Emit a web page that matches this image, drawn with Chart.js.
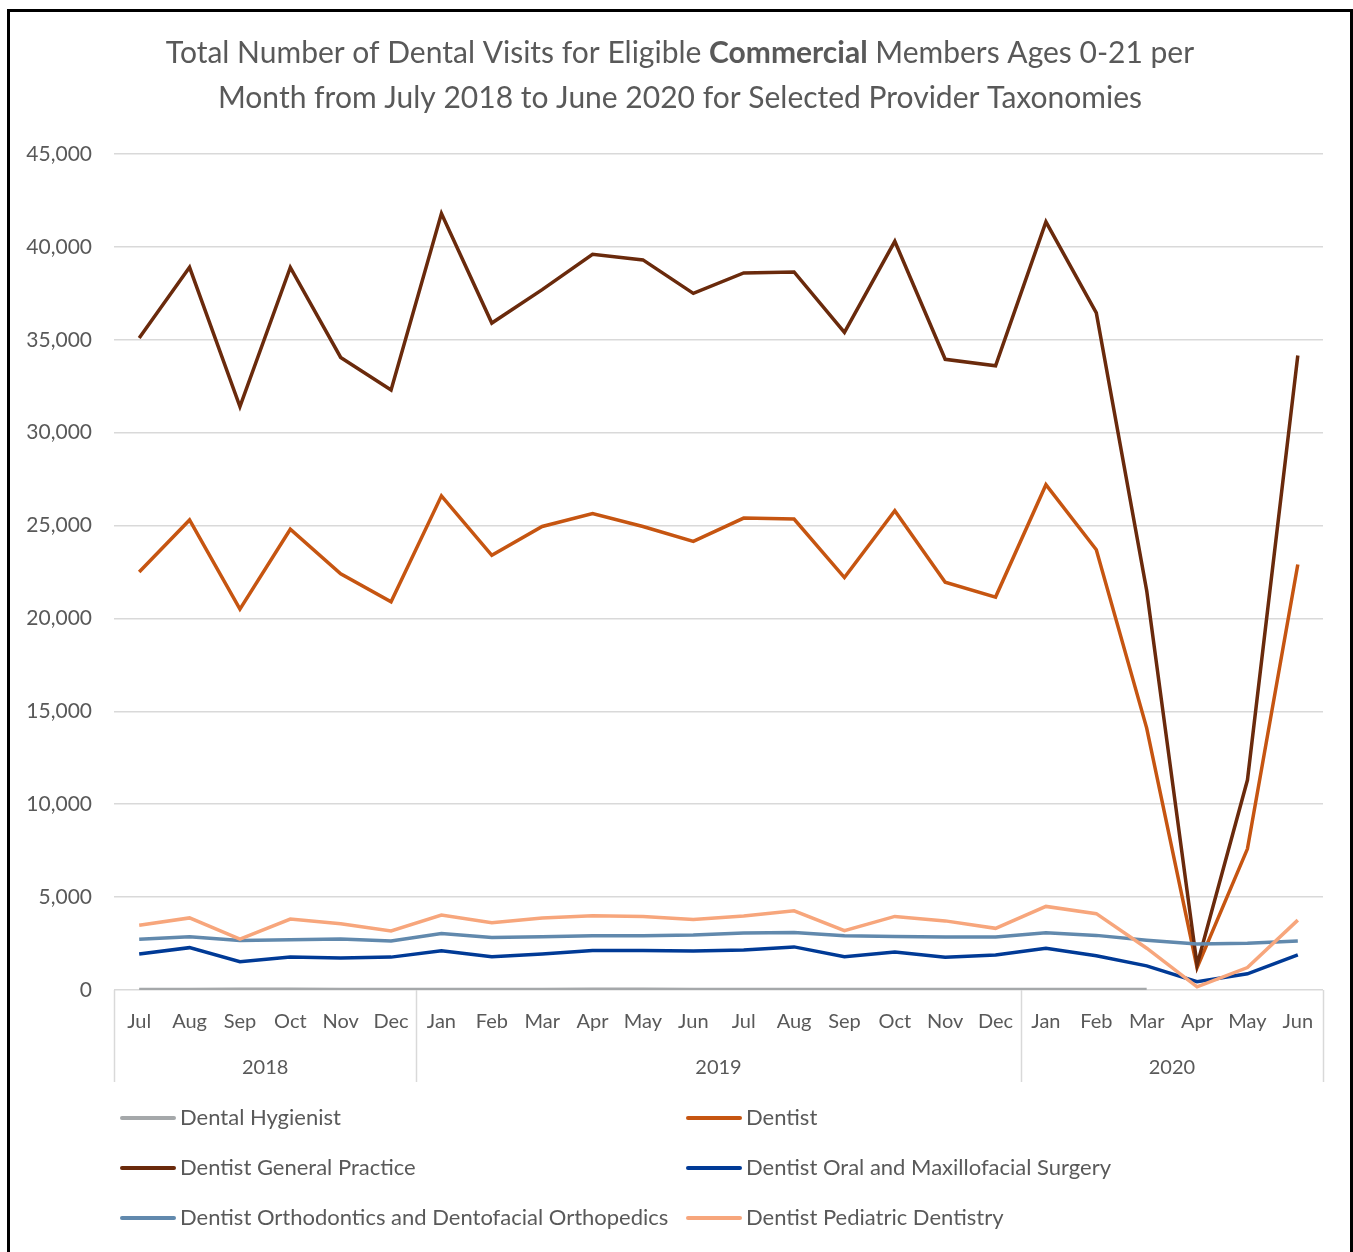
<!DOCTYPE html>
<html>
<head>
<meta charset="utf-8">
<script src="https://cdn.jsdelivr.net/npm/chart.js@4.4.1/dist/chart.umd.min.js"></script>
<style>
  html, body { margin: 0; padding: 0; background: #fff; overflow: hidden; }
  #frame { position: absolute; left: 7px; top: 9px; width: 1346px; height: 1300px; border: 3px solid #000; box-sizing: border-box; }
  #wrap { position: absolute; left: 0; top: 0; width: 1353px; height: 1252px; }
</style>
</head>
<body>
<div id="frame"></div>
<div id="wrap"><canvas id="chart" width="1353" height="1252"></canvas></div>
<script>
// Data
const months = ['Jul','Aug','Sep','Oct','Nov','Dec','Jan','Feb','Mar','Apr','May','Jun',
                'Jul','Aug','Sep','Oct','Nov','Dec','Jan','Feb','Mar','Apr','May','Jun'];
const yearGroups = ['2018', '2019', '2020'];
const yearSpans  = [6, 12, 6];   // number of months in each year group

const titleLine1 = [['Total Number of Dental Visits for Eligible ', false], ['Commercial', true], [' Members Ages 0-21 per', false]];
const titleLine2 = [['Month from July 2018 to June 2020 for Selected Provider Taxonomies', false]];

const dentalHygienist = [30, 32, 35, 36, 30, 28, 27, 28, 32, 34, 35, 30,
                         27, 25, 28, 26, 23, 22, 24, 25, 22, null, null, null];
const dentist = [22500, 25300, 20500, 24800, 22400, 20900, 26600, 23400, 24950, 25650, 24950, 24150,
                 25400, 25350, 22200, 25800, 21950, 21150, 27200, 23700, 14100, 1200, 7600, 22900];
const generalPractice = [35100, 38900, 31400, 38900, 34050, 32300, 41800, 35900, 37700, 39600, 39300, 37500,
                         38600, 38650, 35400, 40300, 33950, 33600, 41350, 36450, 21500, 1350, 11300, 34150];
const oralSurgery = [1940, 2280, 1520, 1780, 1720, 1770, 2110, 1790, 1940, 2120, 2130, 2100,
                     2150, 2320, 1790, 2040, 1760, 1880, 2250, 1840, 1300, 450, 870, 1890];
const orthodontics = [2730, 2860, 2660, 2710, 2740, 2640, 3040, 2820, 2870, 2920, 2920, 2960,
                      3070, 3090, 2920, 2880, 2850, 2850, 3080, 2940, 2680, 2470, 2510, 2640];
const pediatric = [3480, 3880, 2740, 3820, 3570, 3180, 4030, 3620, 3880, 3990, 3950, 3790,
                   3980, 4260, 3190, 3960, 3720, 3320, 4500, 4110, 2250, 170, 1210, 3760];

const seriesNames  = ['Dental Hygienist', 'Dentist', 'Dentist General Practice',
                      'Dentist Oral and Maxillofacial Surgery',
                      'Dentist Orthodontics and Dentofacial Orthopedics', 'Dentist Pediatric Dentistry'];
const seriesValues = [dentalHygienist, dentist, generalPractice, oralSurgery, orthodontics, pediatric];
const seriesColors = ['#A5A8AA', '#C65511', '#6A2A0C', '#003A96', '#6189AD', '#F7A67C'];

const FONT = 'Lato, "Open Sans", sans-serif';
const TEXT = '#595959';
const GRID = '#D9D9D9';

// Title with a bold word in the middle
const titlePlugin = {
  id: 'mixedTitle',
  afterDraw(chart) {
    const ctx = chart.ctx;
    const cx = 680;
    [[titleLine1, 53], [titleLine2, 98]].forEach(([parts, y]) => {
      ctx.save();
      let total = 0;
      const widths = parts.map(([t, b]) => {
        ctx.font = (b ? 'bold ' : '') + '30px ' + FONT;
        const w = ctx.measureText(t).width;
        total += w;
        return w;
      });
      let x = cx - total / 2;
      ctx.fillStyle = TEXT;
      ctx.textBaseline = 'middle';
      parts.forEach(([t, b], i) => {
        ctx.font = (b ? 'bold ' : '') + '30px ' + FONT;
        ctx.fillText(t, x, y);
        x += widths[i];
      });
      ctx.restore();
    });
  }
};

// Year group row under the month labels
const yearAxisPlugin = {
  id: 'yearAxis',
  afterDraw(chart) {
    const ctx = chart.ctx;
    const xs = chart.scales.x;
    const area = chart.chartArea;
    const bottom = area.bottom + 92;
    const half = (xs.getPixelForValue(1) - xs.getPixelForValue(0)) / 2;
    ctx.save();
    ctx.strokeStyle = GRID;
    ctx.lineWidth = 1.5;
    let start = 0;
    const edges = [xs.getPixelForValue(0) - half];
    yearSpans.forEach(n => {
      const end = start + n - 1;
      edges.push(xs.getPixelForValue(end) + half);
      start += n;
    });
    edges.forEach(x => {
      ctx.beginPath();
      ctx.moveTo(Math.round(x) + 0.5, area.bottom);
      ctx.lineTo(Math.round(x) + 0.5, bottom);
      ctx.stroke();
    });
    ctx.fillStyle = TEXT;
    ctx.font = '20px ' + FONT;
    ctx.textAlign = 'center';
    ctx.textBaseline = 'middle';
    yearGroups.forEach((label, i) => {
      ctx.fillText(label, (edges[i] + edges[i + 1]) / 2, area.bottom + 78);
    });
    ctx.restore();
  }
};

// Two-column legend at the bottom
const legendPlugin = {
  id: 'gridLegend',
  afterDraw(chart) {
    const ctx = chart.ctx;
    const colX = [122, 688];
    const rowY = [1118, 1168, 1218];
    ctx.save();
    ctx.font = '22px ' + FONT;
    ctx.textBaseline = 'middle';
    chart.data.datasets.forEach((ds, i) => {
      const x = colX[i % 2];
      const y = rowY[Math.floor(i / 2)];
      ctx.strokeStyle = ds.borderColor;
      ctx.lineWidth = 4;
      ctx.lineCap = 'round';
      ctx.beginPath();
      ctx.moveTo(x, y);
      ctx.lineTo(x + 52, y);
      ctx.stroke();
      ctx.fillStyle = TEXT;
      ctx.fillText(ds.label, x + 58, y);
    });
    ctx.restore();
  }
};

new Chart(document.getElementById('chart'), {
  type: 'line',
  data: {
    labels: months,
    datasets: seriesNames.map((name, i) => ({
      label: name,
      data: seriesValues[i],
      borderColor: seriesColors[i],
      backgroundColor: seriesColors[i],
      borderWidth: 3.5,
      pointRadius: 0,
      tension: 0,
      order: seriesNames.length - i
    }))
  },
  options: {
    responsive: false,
    animation: false,
    layout: { padding: { top: 154, right: 30, left: 20, bottom: 170 } },
    plugins: {
      legend: { display: false },
      title: { display: false },
      tooltip: { enabled: false }
    },
    scales: {
      x: {
        offset: true,
        grid: { display: false, drawTicks: false },
        border: { display: false },
        ticks: { color: TEXT, font: { family: FONT, size: 20 }, padding: 20, maxRotation: 0, autoSkip: false },
        afterFit(scale) { scale.height = 92; }
      },
      y: {
        min: 0,
        max: 45000,
        ticks: {
          stepSize: 5000,
          color: TEXT,
          font: { family: FONT, size: 21 },
          padding: 22,
          callback: v => v.toLocaleString('en-US')
        },
        grid: { color: GRID, lineWidth: 1.5, drawTicks: false },
        border: { display: false },
        afterFit(scale) { scale.width = 94; }
      }
    }
  },
  plugins: [titlePlugin, yearAxisPlugin, legendPlugin]
});
</script>
</body>
</html>
